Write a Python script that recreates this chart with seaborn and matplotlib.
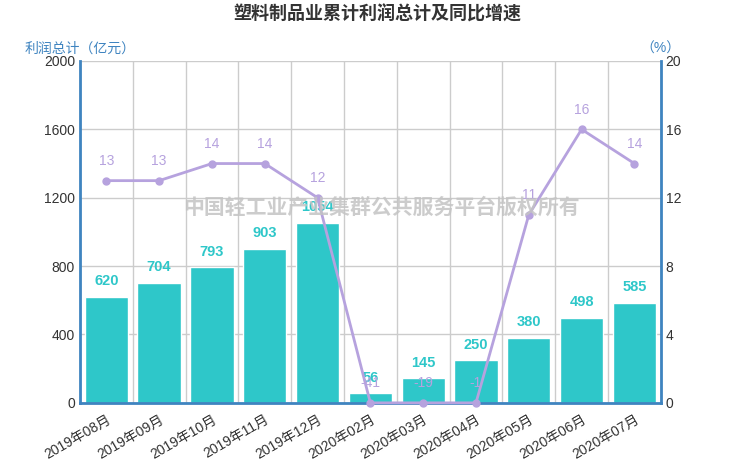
import numpy as np
import pandas as pd
import seaborn as sns
import matplotlib.pyplot as plt

months = ['2019年08月', '2019年09月', '2019年10月', '2019年11月', '2019年12月',
          '2020年02月', '2020年03月', '2020年04月', '2020年05月', '2020年06月', '2020年07月']
profit = [620, 704, 793, 903, 1054, 56, 145, 250, 380, 498, 585]
growth = [13, 13, 14, 14, 12, -41, -19, -1, 11, 16, 14]

sns.set_theme(style='white')
plt.rcParams['font.family'] = ['Liberation Sans', 'Noto Sans CJK SC', 'DejaVu Sans']

bar_c = '#2ec7c9'
line_c = '#b6a2de'
axis_c = '#3f84c0'

df = pd.DataFrame({'month': months, 'profit': profit, 'growth': growth})
x = np.arange(len(months))

fig = plt.figure(figsize=(7.4, 4.62), dpi=100)
ax = fig.add_axes([0.108, 0.128, 0.785, 0.74])
sns.barplot(data=df, x='month', y='profit', color=bar_c, width=0.82,
            saturation=1, ax=ax, zorder=2)
ax.set_xlim(-0.5, len(months) - 0.5)
ax.set_ylim(0, 2000)
ax.set_yticks(range(0, 2001, 400))
ax.set_xlabel('')
ax.set_ylabel('')

# grid: horizontal at ticks, vertical at category boundaries
ax.set_xticks(np.arange(-0.5, len(months)), minor=True)
ax.grid(axis='y', color='#cccccc', lw=1, zorder=0)
ax.grid(axis='x', which='minor', color='#cccccc', lw=1, zorder=0)
ax.tick_params(axis='x', which='major', length=0, pad=7)
ax.tick_params(axis='x', which='minor', length=4, width=1, color='#333333', direction='out')
ax.tick_params(axis='y', length=0, labelsize=10, labelcolor='#333333')
ax.set_xticks(x)
ax.set_xticklabels(months, rotation=30, ha='right', rotation_mode='anchor',
                   fontsize=10, color='#333333')

for s in ['top', 'right']:
    ax.spines[s].set_visible(False)
for s in ['left', 'bottom']:
    ax.spines[s].set_color(axis_c)
    ax.spines[s].set_linewidth(2)

for xi, v in zip(x, profit):
    ax.text(xi, v + 50, str(v), ha='center', va='bottom', color=bar_c,
            fontsize=10.5, fontweight='bold', zorder=5)

ax2 = ax.twinx()
shown = np.clip(growth, 0, None)
ax2.plot(x, shown, color=line_c, lw=2, marker='o', ms=5, zorder=4, clip_on=False)
ax2.set_ylim(0, 20)
ax2.set_yticks(range(0, 21, 4))
ax2.tick_params(axis='y', length=0, labelsize=10, labelcolor='#333333')
ax2.grid(False)
for s in ['top', 'left', 'bottom']:
    ax2.spines[s].set_visible(False)
ax2.spines['right'].set_color(axis_c)
ax2.spines['right'].set_linewidth(2)

for xi, v, p in zip(x, growth, shown):
    ax2.text(xi, p + 0.75, str(v), ha='center', va='bottom', color=line_c,
             fontsize=10, zorder=6)

fig.text(0.51, 0.968, '塑料制品业累计利润总计及同比增速', ha='center', va='center',
         fontsize=13, fontweight='bold', color='#333333')
fig.text(0.108, 0.895, '利润总计（亿元）', ha='center', va='center',
         fontsize=10, color=axis_c)
fig.text(0.893, 0.895, '（%）', ha='center', va='center', fontsize=10, color=axis_c)
fig.text(0.515, 0.55, '中国轻工业产业集群公共服务平台版权所有', ha='center', va='center',
         fontsize=15, fontweight='bold', color='#c4c4c4', alpha=0.85, zorder=10)

fig.savefig('out.png', dpi=100)
